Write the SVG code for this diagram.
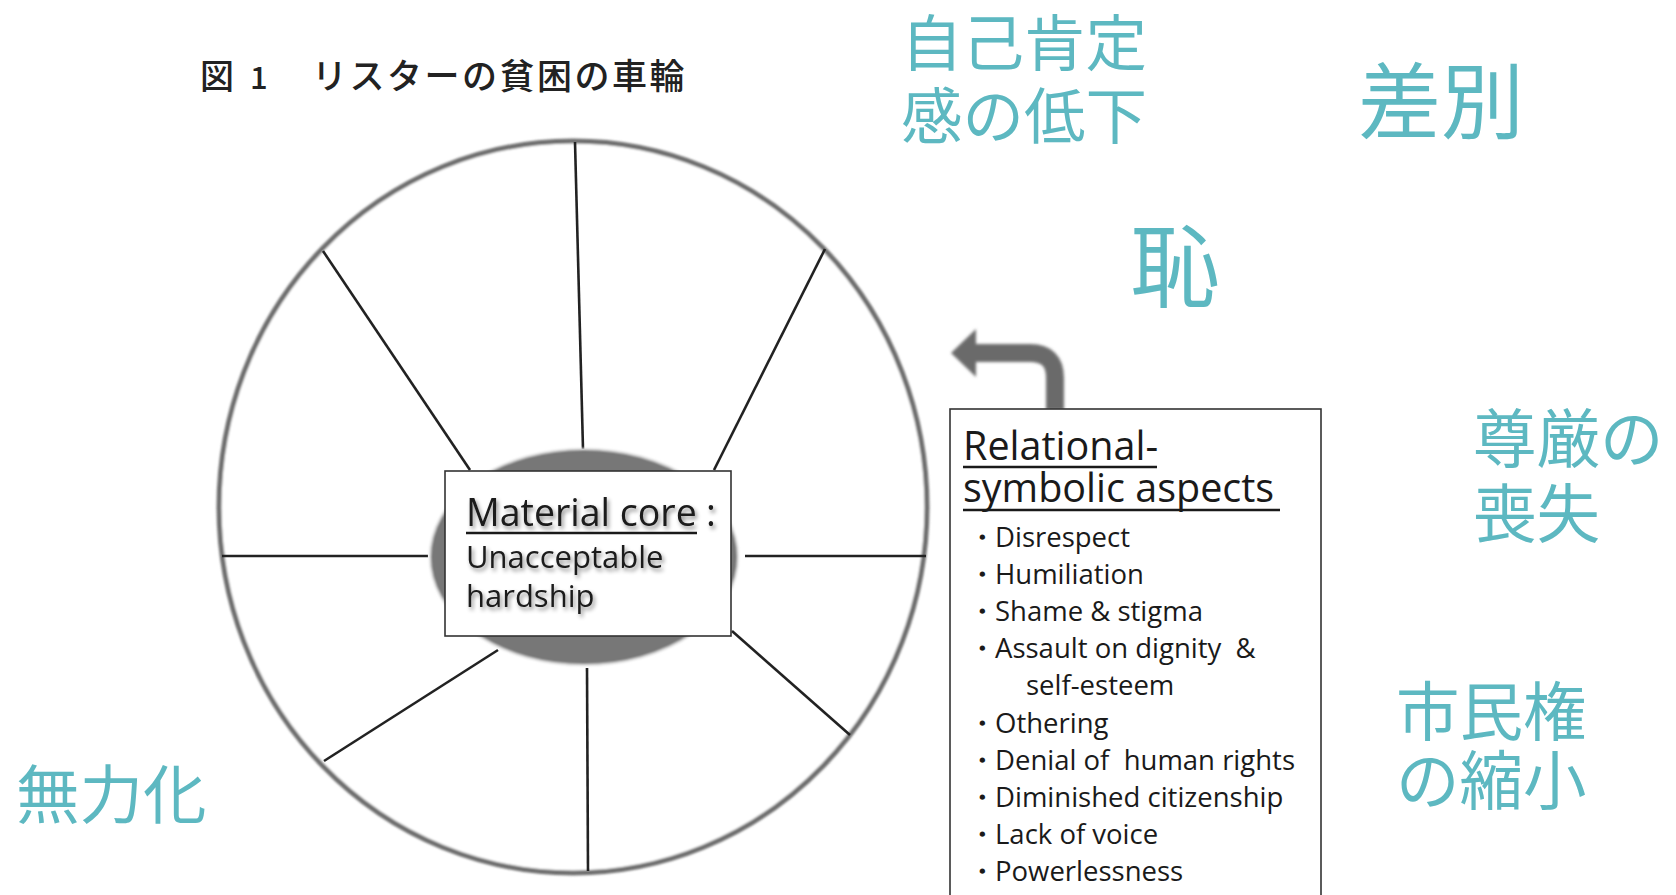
<svg xmlns="http://www.w3.org/2000/svg" width="1676" height="895" viewBox="0 0 1676 895">
<style>
.jp{font-family:"Noto Sans CJK JP","Noto Sans CJK SC",sans-serif;fill:#5db8c1}
.en{font-family:"Open Sans","Liberation Sans",sans-serif;fill:#1a1a1a}
.spoke{stroke:#222;stroke-width:2.6;fill:none}
</style>
<defs>
<filter id="blur" x="-10%" y="-10%" width="120%" height="120%"><feGaussianBlur stdDeviation="1.2"/></filter>
<filter id="ablur" x="-20%" y="-20%" width="140%" height="140%"><feGaussianBlur stdDeviation="1.6"/></filter>
<filter id="tshadow" x="-10%" y="-20%" width="130%" height="160%"><feDropShadow dx="2" dy="3" stdDeviation="2" flood-color="#000" flood-opacity="0.45"/></filter>
</defs>
<rect width="1676" height="895" fill="#fff"/>

<g id="title" font-family="'Noto Sans CJK JP',sans-serif" font-weight="500" fill="#222">
<text x="200" y="89" font-size="34">図</text>
<text x="250" y="89" font-size="31">1</text>
<text x="312" y="89" font-size="35" letter-spacing="2.5">リスターの貧困の車輪</text>
</g>

<g id="wheel">
<ellipse cx="573" cy="507" rx="354" ry="366" fill="#fff" stroke="#6e6e6e" stroke-width="5" filter="url(#blur)"/>
<line class="spoke" x1="575" y1="142" x2="583" y2="449"/>
<line class="spoke" x1="825" y1="249" x2="714" y2="470"/>
<line class="spoke" x1="745" y1="556" x2="926" y2="556"/>
<line class="spoke" x1="732" y1="631" x2="850" y2="735"/>
<line class="spoke" x1="587" y1="668" x2="588" y2="871"/>
<line class="spoke" x1="498" y1="650" x2="324" y2="761"/>
<line class="spoke" x1="222" y1="556" x2="428" y2="556"/>
<line class="spoke" x1="323" y1="251" x2="470" y2="470"/>
</g>

<g id="core">
<ellipse cx="584" cy="557" rx="154" ry="108" fill="#777" stroke="#ddd" stroke-width="2" filter="url(#blur)"/>
<rect x="445" y="471" width="286" height="165" fill="#fff" stroke="#333" stroke-width="1.6"/>
<g filter="url(#tshadow)">
<text class="en" x="466" y="526" font-size="37.5">Material core<tspan x="706">:</tspan></text>
<text class="en" x="466" y="568" font-size="31">Unacceptable</text>
<text class="en" x="466" y="607" font-size="31">hardship</text>
</g>
<line x1="466" y1="533" x2="697" y2="533" stroke="#1a1a1a" stroke-width="2.5"/>
</g>

<g id="connectors">
<g filter="url(#ablur)">
<path d="M1055 410 L1055 378 Q1055 353 1030 353 L970 353" fill="none" stroke="#6a6a6a" stroke-width="18"/>
<polygon points="976,329 951,353 976,377" fill="#6a6a6a"/>
</g>
</g>

<g id="relational">
<rect x="950" y="409" width="371" height="500" fill="#fff" stroke="#333" stroke-width="1.6"/>
<text class="en" x="963" y="460" font-size="39.5">Relational-</text>
<text class="en" x="963" y="502" font-size="39.5">symbolic aspects</text>
<line x1="963" y1="467" x2="1157" y2="467" stroke="#1a1a1a" stroke-width="2.5"/>
<line x1="963" y1="510" x2="1280" y2="510" stroke="#1a1a1a" stroke-width="2.5"/>
<g class="en" font-size="27.5">
<text y="547"><tspan x="968" font-weight="700">・</tspan><tspan x="995">Disrespect</tspan></text>
<text y="584"><tspan x="968" font-weight="700">・</tspan><tspan x="995">Humiliation</tspan></text>
<text y="621"><tspan x="968" font-weight="700">・</tspan><tspan x="995">Shame &amp; stigma</tspan></text>
<text y="658"><tspan x="968" font-weight="700">・</tspan><tspan x="995" xml:space="preserve">Assault on dignity  &amp;</tspan></text>
<text y="695"><tspan x="1026">self-esteem</tspan></text>
<text y="733"><tspan x="968" font-weight="700">・</tspan><tspan x="995">Othering</tspan></text>
<text y="770"><tspan x="968" font-weight="700">・</tspan><tspan x="995" xml:space="preserve">Denial of  human rights</tspan></text>
<text y="807"><tspan x="968" font-weight="700">・</tspan><tspan x="995">Diminished citizenship</tspan></text>
<text y="844"><tspan x="968" font-weight="700">・</tspan><tspan x="995">Lack of voice</tspan></text>
<text y="881"><tspan x="968" font-weight="700">・</tspan><tspan x="995">Powerlessness</tspan></text>
</g>
</g>

<g id="label-jiko">
<text class="jp" x="901" y="66" font-size="61.5">自己肯定</text>
<text class="jp" x="901" y="139" font-size="61.5">感の低下</text>
</g>
<g id="label-sabetsu"><text class="jp" x="1358" y="132" font-size="83">差別</text></g>
<g id="label-haji"><text class="jp" x="1130" y="300" font-size="90">恥</text></g>
<g id="label-songen">
<text class="jp" x="1473" y="462" font-size="63.5">尊厳の</text>
<text class="jp" x="1473" y="537" font-size="63.5">喪失</text>
</g>
<g id="label-shimin">
<text class="jp" x="1396" y="735" font-size="63.5">市民権</text>
<text class="jp" x="1396" y="804" font-size="63.5">の縮小</text>
</g>
<g id="label-muryoku"><text class="jp" x="16" y="818" font-size="63.5">無力化</text></g>
</svg>
